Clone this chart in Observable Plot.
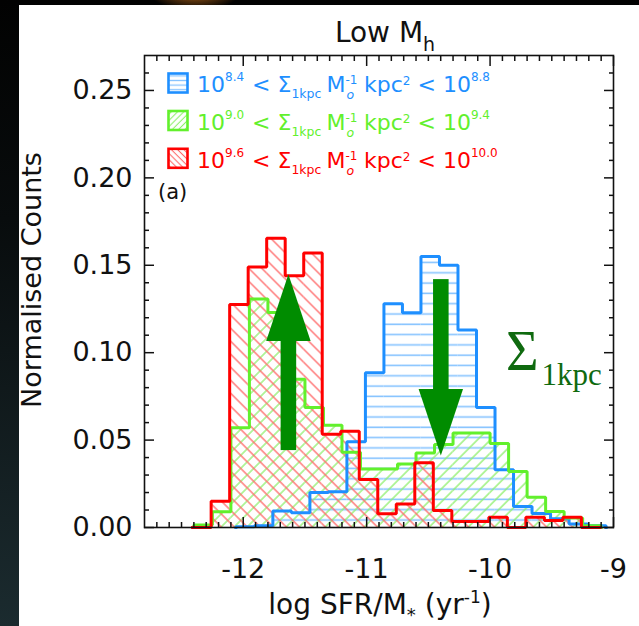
<!DOCTYPE html>
<html><head><meta charset="utf-8">
<script src="https://cdn.jsdelivr.net/npm/d3@7"></script>
<script src="https://cdn.jsdelivr.net/npm/@observablehq/plot@0.6"></script>
<style>
html,body{margin:0;padding:0;}
body{width:639px;height:626px;overflow:hidden;position:relative;background:linear-gradient(180deg,#020202 0%,#080c0d 35%,#1b2b2f 100%);font-family:"DejaVu Sans";}
#glow{position:absolute;left:150px;top:-22px;width:90px;height:32px;background:radial-gradient(ellipse at center, rgba(210,120,30,0.75), rgba(0,0,0,0) 70%);}
#panel{position:absolute;left:19px;top:5px;width:620px;height:621px;background:#fff;}
#chart{position:absolute;left:0;top:0;}
#ann{position:absolute;left:0;top:0;white-space:pre;}
</style></head><body>
<div id="glow"></div>
<div id="panel"></div>
<svg id="defs" width="0" height="0" style="position:absolute;left:0;top:0">
<defs>
<pattern id="pBlue" patternUnits="userSpaceOnUse" width="10" height="10.3"><line x1="0" y1="5" x2="10" y2="5" stroke="#86c3ff" stroke-width="1.6"/></pattern>
<pattern id="pGreen" patternUnits="userSpaceOnUse" width="9.2" height="9.2" patternTransform="rotate(45)"><line x1="4.6" y1="-1" x2="4.6" y2="10.2" stroke="#8ef06c" stroke-width="1.3"/></pattern>
<pattern id="pRed" patternUnits="userSpaceOnUse" width="9.2" height="9.2" patternTransform="rotate(-45)"><line x1="4.6" y1="-1" x2="4.6" y2="10.2" stroke="#ff6a6a" stroke-width="1.3"/></pattern>
<pattern id="pBlueS" patternUnits="userSpaceOnUse" width="6" height="4.6"><line x1="0" y1="2.3" x2="6" y2="2.3" stroke="#86c3ff" stroke-width="1.3"/></pattern>
<pattern id="pGreenS" patternUnits="userSpaceOnUse" width="4.4" height="4.4" patternTransform="rotate(45)"><line x1="2.2" y1="-1" x2="2.2" y2="5.4" stroke="#8ef06c" stroke-width="1.1"/></pattern>
<pattern id="pRedS" patternUnits="userSpaceOnUse" width="4.4" height="4.4" patternTransform="rotate(-45)"><line x1="2.2" y1="-1" x2="2.2" y2="5.4" stroke="#ff6a6a" stroke-width="1.1"/></pattern>
</defs>
</svg>
<div id="chart"></div>
<svg id="ann" width="639" height="626"></svg>
<script>
// ---- data ----
const xTicks = [-12, -11, -10, -9];
const yTicks = [0, 0.05, 0.10, 0.15, 0.20, 0.25];
const xMinor = d3.range(-127, -90).filter(i => i % 10 !== 0).map(i => i / 10);
const yMinor = d3.range(1, 27).filter(i => i % 5 !== 0).map(i => i / 100);

const binWidth = 0.15;
const blueStart = -12.06;
const blueValues = [0.0005, 0.001, 0.0095, 0.0085, 0.020, 0.0205, 0.049, 0.0885, 0.128, 0.1228,
                    0.155, 0.150, 0.113, 0.0686, 0.033, 0.012, 0.008, 0.005, 0.002, 0.001];
const greenStart = -12.40;
const greenValues = [0.0015, 0.009, 0.057, 0.1307, 0.123, 0.0848, 0.0686, 0.0585, 0.043, 0.0335, 0.0335,
                     0.0363, 0.0426, 0.0475, 0.054, 0.054, 0.048, 0.032, 0.0173, 0.0091, 0.0055, 0.001];
const redStart = -12.41;
const redValues = [0, 0.015, 0.1275, 0.149, 0.1655, 0.144, 0.157, 0.0534, 0.055, 0.0274, 0.0078,
                   0.0135, 0.037, 0.0097, 0.0035, 0.0035, 0.0058, 0, 0.0058, 0.004, 0.0058, 0];

const rangeLow = ["8.4", "9.0", "9.6"];
const rangeHigh = ["8.8", "9.4", "10.0"];

// arrows (data units): centre x, tail y, head-base y, tip y
const arrowX = [-11.63, -10.395];
const arrowTail = [0.044, 0.1418];
const arrowBase = [0.1064, 0.0789];
const arrowTip = [0.1446, 0.0409];

// ---- styles ----
const colors = ["#1e8fff", "#62f02c", "#ff0000"];
const patterns = ["url(#pBlue)", "url(#pGreen)", "url(#pRed)"];
const patternsS = ["url(#pBlueS)", "url(#pGreenS)", "url(#pRedS)"];
const arrowColor = "#008c00";
const shaftHalf = 0.063, headHalf = 0.18;

function bins(start, values) {
  return values.map((v, i) => ({x1: start + i * binWidth, x2: start + (i + 1) * binWidth, v}));
}
function outline(start, values) {
  const pts = [{x: start, y: 0}];
  values.forEach((v, i) => { pts.push({x: start + i * binWidth, y: v}, {x: start + (i + 1) * binWidth, y: v}); });
  pts.push({x: start + values.length * binWidth, y: 0});
  return pts;
}
const series = [[blueStart, blueValues], [greenStart, greenValues], [redStart, redValues]];

const shafts = arrowX.map((x, i) => ({x1: x - shaftHalf, x2: x + shaftHalf, y1: arrowTail[i], y2: arrowBase[i]}));
const heads = arrowX.flatMap((x, i) => [
  {id: i, x: x - headHalf, y: arrowBase[i], b: arrowBase[i]},
  {id: i, x: x, y: arrowTip[i], b: arrowBase[i]},
  {id: i, x: x + headHalf, y: arrowBase[i], b: arrowBase[i]}
]);

const blank = () => "";
const marks = [];
series.forEach(([s, v], k) => marks.push(Plot.rectY(bins(s, v), {x1: "x1", x2: "x2", y: "v", fill: patterns[k]})));
series.forEach(([s, v], k) => marks.push(Plot.line(outline(s, v), {x: "x", y: "y", stroke: colors[k], strokeWidth: 3, strokeLinejoin: "miter", strokeLinecap: "square"})));
marks.push(Plot.rect(shafts, {x1: "x1", x2: "x2", y1: "y1", y2: "y2", fill: arrowColor}));
marks.push(Plot.areaY(heads, {x: "x", y1: "b", y2: "y", z: "id", fill: arrowColor}));
marks.push(
  Plot.axisY(yTicks, {anchor: "left", tickSize: -10, tickPadding: 22, tickFormat: d3.format(".2f"), fontSize: 27, label: null, strokeWidth: 1.5}),
  Plot.axisY(yMinor, {anchor: "left", tickSize: -5, tickFormat: blank, label: null, strokeWidth: 1.5}),
  Plot.axisY(yTicks, {anchor: "right", tickSize: -10, tickFormat: blank, label: null, strokeWidth: 1.5}),
  Plot.axisY(yMinor, {anchor: "right", tickSize: -5, tickFormat: blank, label: null, strokeWidth: 1.5}),
  Plot.axisX(xTicks, {anchor: "bottom", tickSize: -10, tickPadding: 41, tickFormat: d => String(d), fontSize: 27, label: null, strokeWidth: 1.5}),
  Plot.axisX(xMinor, {anchor: "bottom", tickSize: -5, tickFormat: blank, label: null, strokeWidth: 1.5}),
  Plot.axisX(xTicks, {anchor: "top", tickSize: -10, tickFormat: blank, label: null, strokeWidth: 1.5}),
  Plot.axisX(xMinor, {anchor: "top", tickSize: -5, tickFormat: blank, label: null, strokeWidth: 1.5}),
  Plot.frame({stroke: "#111", strokeWidth: 1.6})
);

const plot = Plot.plot({
  width: 639, height: 626,
  marginLeft: 144, marginRight: 26, marginTop: 55, marginBottom: 99,
  x: {domain: [-12.8, -9], label: null},
  y: {domain: [0, 0.27], label: null},
  style: {fontFamily: "DejaVu Sans", background: "transparent", overflow: "visible", color: "#111"},
  marks
});
document.getElementById("chart").appendChild(plot);

// ---- text annotations ----
const ann = d3.select("#ann");
function rich(x, y, parts, {size = 22, fill = "#111", anchor = "start", family = "DejaVu Sans", transform = null} = {}) {
  const t = ann.append("text").attr("x", x).attr("y", y).attr("font-size", size)
    .attr("fill", fill).attr("text-anchor", anchor).attr("font-family", family);
  if (transform) t.attr("transform", transform);
  let cur = 0;
  for (const p of parts) {
    const shift = p.dy || 0;
    const ts = t.append("tspan").text(p.t).attr("dy", shift - cur).attr("font-size", p.s || size);
    if (p.dx) ts.attr("dx", p.dx);
    if (p.it) ts.attr("font-style", "italic");
    cur = shift;
  }
  return t;
}
// title
rich(385, 42, [{t: "Low M"}, {t: "h", dy: 9, s: 19}], {size: 28, anchor: "middle"});
// x title
rich(380, 614, [{t: "log SFR/M"}, {t: "*", dy: 7, s: 18}, {t: " (yr"}, {t: "-1", dy: -11, s: 17}, {t: ")"}], {size: 28, anchor: "middle"});
// y title
rich(0, 0, [{t: "Normalised Counts"}], {size: 27, anchor: "middle", transform: "translate(41,280) rotate(-90)"});
// panel label
rich(158, 199, [{t: "(a)"}], {size: 21});
// legend
const rowTop = [73, 110.5, 148.3];
rangeLow.forEach((lo, k) => {
  const y0 = rowTop[k];
  ann.append("rect").attr("x", 168.5).attr("y", y0 + 0.5).attr("width", 19).attr("height", 19)
    .attr("fill", patternsS[k]).attr("stroke", colors[k]).attr("stroke-width", 2.6);
  rich(197, y0 + 19.3, [
    {t: "10"}, {t: lo, dy: -11, s: 12},
    {t: " < Σ", dx: 1}, {t: "1kpc", dy: 6, s: 12.5},
    {t: "M", dx: 5}, {t: "-1", dy: -8, s: 12}, {t: "o", dy: 7, s: 12.5, dx: -11, it: true},
    {t: " kpc", dx: 3}, {t: "2", dy: -7, s: 12},
    {t: " < 10"}, {t: rangeHigh[k], dy: -11, s: 12}
  ], {size: 22, fill: colors[k]});
});
// Sigma annotation
rich(506, 370, [{t: "Σ"}, {t: "1kpc", dy: 15, s: 31, dx: 3}], {size: 56, fill: "#0f6a0f", family: "Liberation Serif"});
</script>
</body></html>
